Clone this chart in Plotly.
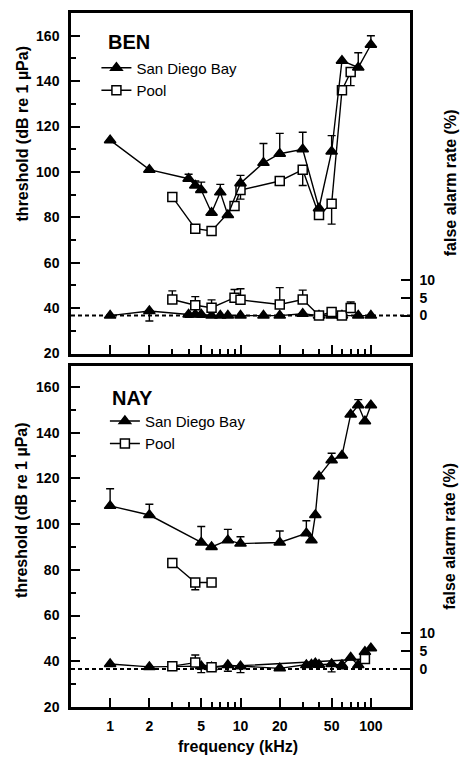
import plotly.graph_objects as go

# ---------------- data ----------------
# BEN (top panel)
ben_sdb_freq = [1, 2, 4, 4.5, 5, 6, 7, 8, 10, 15, 20, 30, 40, 50, 60, 80, 100]
ben_sdb_thr = [114, 101, 97, 94, 92, 82, 91, 81, 95, 104, 108, 110, 84, 109, 149, 146, 156]
ben_sdb_err = [0, 0, 2, 2, 3.5, 0, 3.5, 0, 3.5, 8.5, 9, 7.5, 0, 7, 0, 6.5, 4]

ben_pool_freq = [3, 4.5, 6, 9, 10, 20, 30, 40, 50, 60, 70]
ben_pool_thr = [89, 75, 74, 85, 92, 96, 101, 81, 86, 136, 144]
ben_pool_err = [1, 1.5, 0, 0, 4, 0, 7, 0, 9, 0, 6]

ben_fa_sdb = [0, 1.3, 0.3, 0.3, 0.3, 0, 0, 0, 0, 0, 0, 0.5, 0, 0, 0, 0, 0]
ben_fa_sdb_err = [0, 2.8, 0.8, 0, 0.8, 0, 0, 0, 0, 0, 0, 0, 0, 0, 0, 0, 0]
ben_fa_pool = [4.5, 2.9, 2.2, 5, 4.4, 3.1, 4.5, 0, 1, 0, 2.1]
ben_fa_pool_err = [2.4, 2.4, 2.2, 2.3, 3.1, 4.7, 2.6, 0, 0.5, 0, 1.7]

# NAY (bottom panel)
nay_sdb_freq = [1, 2, 5, 6, 8, 10, 20, 32, 35, 37.5, 40, 50, 60, 70, 80, 90, 100]
nay_sdb_thr = [108, 104, 92, 90, 93, 91.5, 92, 96, 93, 104, 121, 128, 130, 148, 152, 145, 152]
nay_sdb_err = [7.5, 4.7, 7, 0, 4.7, 3, 5, 5.5, 0, 0, 0, 3, 0, 0, 2.5, 0, 0]

nay_pool_freq = [3, 4.5, 6]
nay_pool_thr = [83, 74.5, 74.5]
nay_pool_err = [0, 3.2, 0]

nay_fa_sdb = [1.4, 0.6, 0.8, 0.5, 1.1, 0.8, 0.2, 1.1, 1.3, 1.6, 1.2, 1.4, 1.1, 3.2, 1.1, 4.8, 5.8]
nay_fa_sdb_err = [0, 0, 1.8, 0, 1.7, 1.8, 0, 0, 0, 0, 0, 2.2, 1.0, 0, 0, 0, 0]
nay_fa_pool_freq = [3, 4.5, 6, 90]
nay_fa_pool = [0.8, 1.8, 0.5, 2.8]
nay_fa_pool_err = [0, 2.1, 0, 0]

x_ticks = [1, 2, 5, 10, 20, 50, 100]
x_ticktext = ["1", "2", "5", "10", "20", "50", "100"]
x_minor = [3, 4, 6, 7, 8, 9, 30, 40, 60, 70, 80, 90]
y_ticks = [20, 40, 60, 80, 100, 120, 140, 160]
y_minor = [30, 50, 70, 90, 110, 130, 150]
fa_ticks = [0, 5, 10]

FONT = "Liberation Sans, Arial, sans-serif"

fig = go.Figure()


def add(fx, fy, up, down, xa, ya, sym, name, showlegend=False, legend="legend"):
    filled = sym == "triangle-up"
    fig.add_trace(go.Scatter(
        x=fx, y=fy, mode="lines+markers", xaxis=xa, yaxis=ya, name=name,
        showlegend=showlegend, legend=legend,
        line=dict(color="black", width=1.4),
        marker=dict(symbol=sym, size=10 if filled else 9,
                    color="black" if filled else "white",
                    line=dict(color="black", width=1.5)),
        error_y=dict(type="data", symmetric=False, array=up, arrayminus=down,
                     color="black", thickness=1.4, width=4),
    ))


def zeros(n):
    return [0] * n


# top panel
add(ben_sdb_freq, ben_fa_sdb, zeros(len(ben_fa_sdb)), ben_fa_sdb_err, "x", "y2", "triangle-up", "fa sdb")
add(ben_pool_freq, ben_fa_pool, ben_fa_pool_err, zeros(len(ben_fa_pool)), "x", "y2", "square", "fa pool")
add(ben_pool_freq, ben_pool_thr, zeros(len(ben_pool_thr)), ben_pool_err, "x", "y", "square", "Pool", True, "legend")
add(ben_sdb_freq, ben_sdb_thr, ben_sdb_err, zeros(len(ben_sdb_thr)), "x", "y", "triangle-up", "San Diego Bay", True, "legend")

# bottom panel
add(nay_sdb_freq, nay_fa_sdb, zeros(len(nay_fa_sdb)), nay_fa_sdb_err, "x2", "y4", "triangle-up", "fa sdb2")
add(nay_fa_pool_freq, nay_fa_pool, nay_fa_pool_err, zeros(len(nay_fa_pool)), "x2", "y4", "square", "fa pool2")
add(nay_pool_freq, nay_pool_thr, zeros(len(nay_pool_thr)), nay_pool_err, "x2", "y3", "square", "Pool", True, "legend2")
add(nay_sdb_freq, nay_sdb_thr, nay_sdb_err, zeros(len(nay_sdb_thr)), "x2", "y3", "triangle-up", "San Diego Bay", True, "legend2")

tickfont = dict(family=FONT, size=14, color="black", weight="bold")

xcommon = dict(type="log", range=[-0.3, 2.3], tickvals=x_ticks, ticktext=x_ticktext,
               ticks="inside", ticklen=9, tickwidth=2, tickcolor="black",
               showline=True, linewidth=2.5, linecolor="black", mirror=True,
               showgrid=False, zeroline=False, tickfont=tickfont, ticklabelstandoff=4,
               minor=dict(tickvals=x_minor, ticks="inside", ticklen=5, tickwidth=2,
                          tickcolor="black", showgrid=False))
ycommon = dict(tickvals=y_ticks, ticks="inside", ticklen=9, tickwidth=2, tickcolor="black",
               showline=True, linewidth=2.5, linecolor="black", mirror=True,
               showgrid=False, zeroline=False, tickfont=tickfont, ticklabelstandoff=6,
               minor=dict(tickvals=y_minor, ticks="inside", ticklen=5, tickwidth=2,
                          tickcolor="black", showgrid=False))
facommon = dict(tickvals=fa_ticks, ticks="inside", ticklen=9, tickwidth=2, tickcolor="black",
                showline=True, linewidth=2.5, linecolor="black", side="right",
                showgrid=False, zeroline=False, tickfont=tickfont, ticklabelstandoff=4,
                range=[-10.6, 84.5])

top_dom = [0.5093, 1.0]
bot_dom = [0.0, 0.4907]

fig.update_layout(
    width=461, height=757,
    margin=dict(l=71, r=51, t=10, b=50),
    paper_bgcolor="white", plot_bgcolor="white",
    font=dict(family=FONT, color="black"),
    xaxis=dict(**xcommon, anchor="y", domain=[0, 1], showticklabels=False),
    yaxis=dict(**ycommon, domain=top_dom, range=[20, 170], anchor="x"),
    yaxis2=dict(**facommon, overlaying="y", anchor="x"),
    xaxis2=dict(**xcommon, anchor="y3", domain=[0, 1]),
    yaxis3=dict(**ycommon, domain=bot_dom, range=[20, 169], anchor="x2"),
    yaxis4=dict(**facommon, overlaying="y3", anchor="x2"),
    legend=dict(x=0.075, y=0.9445, xanchor="left", yanchor="top", bgcolor="rgba(0,0,0,0)",
                font=dict(family=FONT, size=15, color="black"), traceorder="reversed",
                tracegroupgap=0),
    legend2=dict(x=0.10, y=0.4355, xanchor="left", yanchor="top", bgcolor="rgba(0,0,0,0)",
                 font=dict(family=FONT, size=15, color="black"), traceorder="reversed",
                 tracegroupgap=0),
    showlegend=True,
)

# dashed zero false-alarm lines
for yref in ["y2", "y4"]:
    fig.add_shape(type="line", xref="paper", x0=0, x1=1, yref=yref, y0=0, y1=0,
                  line=dict(color="black", width=2, dash="4px,3px"), layer="below")

ann = []
ann.append(dict(text="BEN", x=0.103, y=0.9585, xref="paper", yref="paper", xanchor="left",
                yanchor="middle", showarrow=False,
                font=dict(family=FONT, size=20, color="black", weight="bold")))
ann.append(dict(text="NAY", x=0.115, y=0.4448, xref="paper", yref="paper", xanchor="left",
                yanchor="middle", showarrow=False,
                font=dict(family=FONT, size=20, color="black", weight="bold")))
title_font = dict(family=FONT, size=16, color="black", weight="bold")
for yc in [0.825, 0.2826]:
    ann.append(dict(text="threshold (dB re 1 µPa)", x=-0.1445, y=yc, xref="paper", yref="paper",
                    textangle=-90, showarrow=False, xanchor="center", yanchor="middle",
                    font=title_font))
for yc in [0.7547, 0.2453]:
    ann.append(dict(text="false alarm rate (%)", x=1.118, y=yc, xref="paper", yref="paper",
                    textangle=-90, showarrow=False, xanchor="center", yanchor="middle",
                    font=title_font))
ann.append(dict(text="frequency (kHz)", x=0.4926, y=-0.0574, xref="paper", yref="paper",
                showarrow=False, xanchor="center", yanchor="middle", font=title_font))
fig.update_layout(annotations=ann)

fig.write_html("out.html")
